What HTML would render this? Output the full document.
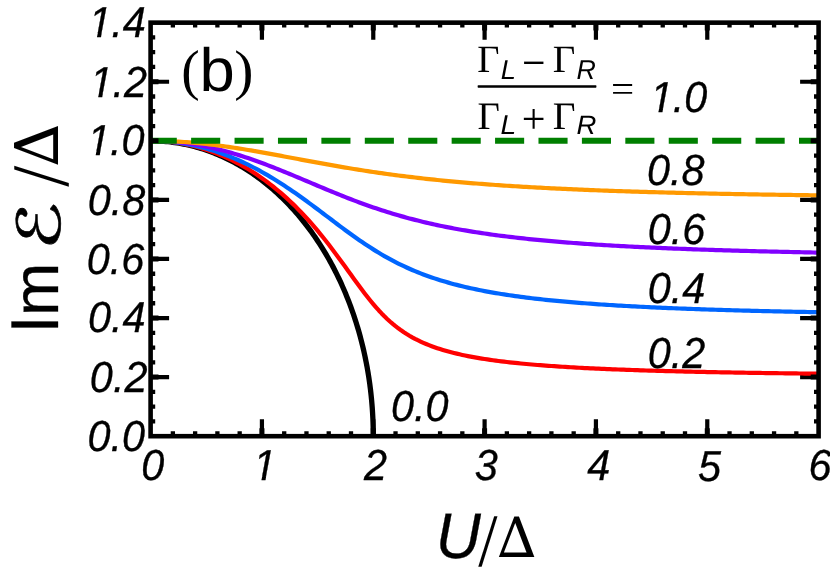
<!DOCTYPE html>
<html lang="en"><head><meta charset="utf-8"><title>Im E vs U</title>
<style>html,body{margin:0;padding:0;background:#fff}body{width:830px;height:570px;overflow:hidden}svg{display:block}.s{font-family:"Liberation Sans",sans-serif}.si{font-family:"Liberation Sans",sans-serif;font-style:italic}.r{font-family:"Liberation Serif",serif}.d{font-family:"DejaVu Sans",sans-serif}.ds{font-family:"DejaVu Serif",serif}</style></head><body>
<svg width="830" height="570" viewBox="0 0 830 570">
<rect width="830" height="570" fill="#fff"/>
<defs><clipPath id="c"><rect x="150.6" y="22.65" width="668" height="413.55"/></clipPath><clipPath id="k1"><path d="M-3 -31H25V-3.8H13.05L12.31 0V1H8.3V0L9.04 -3.8H-3Z"/></clipPath></defs>
<path id="ticks0" d="M261.93 436.2 v-17 M261.93 22.65 v17 M373.27 436.2 v-17 M373.27 22.65 v17 M484.6 436.2 v-17 M484.6 22.65 v17 M595.93 436.2 v-17 M595.93 22.65 v17 M707.27 436.2 v-17 M707.27 22.65 v17 M150.6 377.12 h18.5 M818.6 377.12 h-18.5 M150.6 318.04 h18.5 M818.6 318.04 h-18.5 M150.6 258.96 h18.5 M818.6 258.96 h-18.5 M150.6 199.89 h18.5 M818.6 199.89 h-18.5 M150.6 140.81 h18.5 M818.6 140.81 h-18.5 M150.6 81.73 h18.5 M818.6 81.73 h-18.5" fill="none" stroke="#000" stroke-width="4.2"/>
<g id="curves" clip-path="url(#c)" fill="none" stroke-linejoin="round">
<path d="M150.6 140.81 L152.8 140.82 L155 140.86 L157.2 140.94 L159.4 141.04 L161.59 141.17 L163.79 141.33 L165.99 141.51 L168.18 141.73 L170.37 141.97 L172.56 142.25 L174.75 142.55 L176.94 142.88 L179.12 143.24 L181.3 143.63 L183.48 144.04 L185.65 144.49 L187.82 144.96 L189.99 145.47 L192.15 146 L194.31 146.55 L196.46 147.14 L198.61 147.76 L200.76 148.4 L202.9 149.07 L205.04 149.77 L207.17 150.5 L209.29 151.25 L211.41 152.04 L213.52 152.85 L215.63 153.69 L217.73 154.55 L219.83 155.45 L221.91 156.37 L223.99 157.31 L226.07 158.29 L228.13 159.29 L230.19 160.32 L232.24 161.38 L234.28 162.46 L236.32 163.57 L238.34 164.71 L240.36 165.87 L242.37 167.06 L244.37 168.28 L246.36 169.52 L248.34 170.79 L250.31 172.08 L252.28 173.4 L254.23 174.75 L256.17 176.12 L258.1 177.51 L260.02 178.94 L261.93 180.38 L263.83 181.85 L265.72 183.35 L267.6 184.87 L269.46 186.42 L271.32 187.99 L273.16 189.58 L274.99 191.2 L276.81 192.84 L278.62 194.51 L280.41 196.2 L282.19 197.91 L283.96 199.65 L285.71 201.41 L287.46 203.19 L289.18 204.99 L290.9 206.82 L292.6 208.67 L294.29 210.54 L295.96 212.44 L297.62 214.35 L299.27 216.29 L300.9 218.25 L302.51 220.23 L304.11 222.23 L305.7 224.25 L307.27 226.3 L308.82 228.36 L310.36 230.44 L311.89 232.55 L313.4 234.67 L314.89 236.81 L316.37 238.98 L317.83 241.16 L319.27 243.36 L320.7 245.58 L322.11 247.82 L323.51 250.08 L324.88 252.35 L326.24 254.64 L327.59 256.96 L328.91 259.28 L330.22 261.63 L331.51 263.99 L332.79 266.37 L334.04 268.77 L335.28 271.18 L336.5 273.61 L337.7 276.05 L338.89 278.51 L340.05 280.99 L341.2 283.48 L342.33 285.98 L343.43 288.5 L344.53 291.04 L345.6 293.59 L346.65 296.15 L347.68 298.73 L348.7 301.31 L349.69 303.92 L350.67 306.53 L351.62 309.16 L352.56 311.8 L353.48 314.46 L354.37 317.12 L355.25 319.8 L356.11 322.48 L356.94 325.18 L357.76 327.89 L358.56 330.61 L359.33 333.34 L360.09 336.08 L360.82 338.83 L361.54 341.59 L362.23 344.36 L362.91 347.14 L363.56 349.93 L364.19 352.72 L364.8 355.53 L365.39 358.34 L365.96 361.16 L366.51 363.98 L367.04 366.82 L367.54 369.66 L368.03 372.5 L368.49 375.36 L368.93 378.21 L369.36 381.08 L369.76 383.95 L370.13 386.82 L370.49 389.7 L370.83 392.59 L371.14 395.47 L371.43 398.37 L371.7 401.26 L371.95 404.16 L372.18 407.06 L372.39 409.97 L372.57 412.88 L372.73 415.79 L372.88 418.7 L373 421.61 L373.09 424.53 L373.17 427.45 L373.22 430.36 L373.26 433.28 L373.27 436.2" stroke="#000" stroke-width="5.3"/>
<path d="M150.6 140.81 L153.38 140.83 L156.17 140.9 L158.95 141.01 L161.73 141.16 L164.52 141.36 L167.3 141.61 L170.08 141.89 L172.87 142.23 L175.65 142.61 L178.43 143.03 L181.22 143.5 L184 144.01 L186.78 144.57 L189.57 145.18 L192.35 145.83 L195.13 146.52 L197.92 147.27 L200.7 148.06 L203.48 148.9 L206.27 149.78 L209.05 150.71 L211.83 151.7 L214.62 152.73 L217.4 153.8 L220.18 154.93 L222.97 156.11 L225.75 157.34 L228.53 158.62 L231.32 159.95 L234.1 161.33 L236.88 162.77 L239.67 164.25 L242.45 165.8 L245.23 167.39 L248.02 169.04 L250.8 170.75 L253.58 172.52 L256.37 174.34 L259.15 176.22 L261.93 178.16 L264.72 180.16 L267.5 182.22 L270.28 184.34 L273.07 186.52 L275.85 188.77 L278.63 191.08 L281.42 193.46 L284.2 195.9 L286.98 198.41 L289.77 200.99 L292.55 203.64 L295.33 206.36 L298.12 209.15 L300.9 212.01 L303.68 214.94 L306.47 217.95 L309.25 221.03 L312.03 224.18 L314.82 227.4 L317.6 230.7 L320.38 234.06 L323.17 237.5 L325.95 241.01 L328.73 244.57 L331.52 248.2 L334.3 251.89 L337.08 255.63 L339.87 259.41 L342.65 263.23 L345.43 267.08 L348.22 270.94 L351 274.8 L353.78 278.66 L356.57 282.49 L359.35 286.28 L362.13 290.02 L364.92 293.68 L367.7 297.26 L370.48 300.73 L373.27 304.1 L376.05 307.34 L378.83 310.44 L381.62 313.41 L384.4 316.24 L387.18 318.93 L389.97 321.48 L392.75 323.89 L395.53 326.16 L398.32 328.3 L401.1 330.33 L403.88 332.23 L406.67 334.02 L409.45 335.71 L412.23 337.31 L415.02 338.81 L417.8 340.22 L420.58 341.55 L423.37 342.81 L426.15 344 L428.93 345.13 L431.72 346.2 L434.5 347.21 L437.28 348.16 L440.07 349.07 L442.85 349.93 L445.63 350.75 L448.42 351.54 L451.2 352.28 L453.98 352.99 L456.77 353.66 L459.55 354.31 L462.33 354.93 L465.12 355.52 L467.9 356.08 L470.68 356.62 L473.47 357.14 L476.25 357.64 L479.03 358.12 L481.82 358.58 L484.6 359.02 L487.38 359.44 L490.17 359.85 L492.95 360.24 L495.73 360.62 L498.52 360.99 L501.3 361.34 L504.08 361.68 L506.87 362 L509.65 362.32 L512.43 362.63 L515.22 362.92 L518 363.21 L520.78 363.49 L523.57 363.75 L526.35 364.01 L529.13 364.27 L531.92 364.51 L534.7 364.75 L537.48 364.98 L540.27 365.2 L543.05 365.41 L545.83 365.62 L548.62 365.83 L551.4 366.03 L554.18 366.22 L556.97 366.41 L559.75 366.59 L562.53 366.77 L565.32 366.94 L568.1 367.11 L570.88 367.27 L573.67 367.43 L576.45 367.59 L579.23 367.74 L582.02 367.88 L584.8 368.03 L587.58 368.17 L590.37 368.31 L593.15 368.44 L595.93 368.57 L598.72 368.7 L601.5 368.82 L604.28 368.94 L607.07 369.06 L609.85 369.18 L612.63 369.29 L615.42 369.4 L618.2 369.51 L620.98 369.62 L623.77 369.72 L626.55 369.82 L629.33 369.92 L632.12 370.02 L634.9 370.11 L637.68 370.21 L640.47 370.3 L643.25 370.39 L646.03 370.48 L648.82 370.56 L651.6 370.65 L654.38 370.73 L657.17 370.81 L659.95 370.89 L662.73 370.97 L665.52 371.04 L668.3 371.12 L671.08 371.19 L673.87 371.26 L676.65 371.33 L679.43 371.4 L682.22 371.47 L685 371.54 L687.78 371.6 L690.57 371.67 L693.35 371.73 L696.13 371.79 L698.92 371.85 L701.7 371.91 L704.48 371.97 L707.27 372.03 L710.05 372.08 L712.83 372.14 L715.62 372.2 L718.4 372.25 L721.18 372.3 L723.97 372.35 L726.75 372.41 L729.53 372.46 L732.32 372.5 L735.1 372.55 L737.88 372.6 L740.67 372.65 L743.45 372.7 L746.23 372.74 L749.02 372.79 L751.8 372.83 L754.58 372.87 L757.37 372.92 L760.15 372.96 L762.93 373 L765.72 373.04 L768.5 373.08 L771.28 373.12 L774.07 373.16 L776.85 373.2 L779.63 373.24 L782.42 373.27 L785.2 373.31 L787.98 373.35 L790.77 373.38 L793.55 373.42 L796.33 373.45 L799.12 373.49 L801.9 373.52 L804.68 373.55 L807.47 373.59 L810.25 373.62 L813.03 373.65 L815.82 373.68 L818.6 373.71" stroke="#ff0000" stroke-width="4.2"/>
<path d="M150.6 140.81 L153.38 140.83 L156.17 140.88 L158.95 140.98 L161.73 141.12 L164.52 141.29 L167.3 141.51 L170.08 141.76 L172.87 142.05 L175.65 142.38 L178.43 142.75 L181.22 143.15 L184 143.6 L186.78 144.09 L189.57 144.61 L192.35 145.18 L195.13 145.78 L197.92 146.42 L200.7 147.1 L203.48 147.82 L206.27 148.58 L209.05 149.38 L211.83 150.22 L214.62 151.1 L217.4 152.01 L220.18 152.97 L222.97 153.97 L225.75 155 L228.53 156.08 L231.32 157.19 L234.1 158.34 L236.88 159.53 L239.67 160.76 L242.45 162.03 L245.23 163.34 L248.02 164.69 L250.8 166.07 L253.58 167.5 L256.37 168.96 L259.15 170.46 L261.93 171.99 L264.72 173.57 L267.5 175.17 L270.28 176.82 L273.07 178.5 L275.85 180.21 L278.63 181.96 L281.42 183.74 L284.2 185.55 L286.98 187.39 L289.77 189.27 L292.55 191.17 L295.33 193.1 L298.12 195.05 L300.9 197.03 L303.68 199.03 L306.47 201.05 L309.25 203.09 L312.03 205.14 L314.82 207.22 L317.6 209.3 L320.38 211.39 L323.17 213.49 L325.95 215.59 L328.73 217.7 L331.52 219.8 L334.3 221.9 L337.08 224 L339.87 226.08 L342.65 228.15 L345.43 230.21 L348.22 232.25 L351 234.27 L353.78 236.26 L356.57 238.23 L359.35 240.17 L362.13 242.08 L364.92 243.96 L367.7 245.8 L370.48 247.61 L373.27 249.38 L376.05 251.11 L378.83 252.8 L381.62 254.45 L384.4 256.07 L387.18 257.64 L389.97 259.17 L392.75 260.66 L395.53 262.1 L398.32 263.51 L401.1 264.88 L403.88 266.2 L406.67 267.49 L409.45 268.74 L412.23 269.95 L415.02 271.12 L417.8 272.26 L420.58 273.36 L423.37 274.43 L426.15 275.46 L428.93 276.46 L431.72 277.43 L434.5 278.37 L437.28 279.28 L440.07 280.16 L442.85 281.01 L445.63 281.84 L448.42 282.64 L451.2 283.42 L453.98 284.17 L456.77 284.9 L459.55 285.6 L462.33 286.29 L465.12 286.95 L467.9 287.59 L470.68 288.22 L473.47 288.82 L476.25 289.41 L479.03 289.98 L481.82 290.53 L484.6 291.07 L487.38 291.59 L490.17 292.1 L492.95 292.59 L495.73 293.07 L498.52 293.54 L501.3 293.99 L504.08 294.43 L506.87 294.86 L509.65 295.27 L512.43 295.68 L515.22 296.07 L518 296.45 L520.78 296.83 L523.57 297.19 L526.35 297.55 L529.13 297.89 L531.92 298.23 L534.7 298.56 L537.48 298.88 L540.27 299.19 L543.05 299.49 L545.83 299.79 L548.62 300.08 L551.4 300.36 L554.18 300.64 L556.97 300.91 L559.75 301.17 L562.53 301.43 L565.32 301.68 L568.1 301.92 L570.88 302.16 L573.67 302.4 L576.45 302.63 L579.23 302.85 L582.02 303.07 L584.8 303.28 L587.58 303.49 L590.37 303.7 L593.15 303.9 L595.93 304.1 L598.72 304.29 L601.5 304.48 L604.28 304.66 L607.07 304.84 L609.85 305.02 L612.63 305.19 L615.42 305.36 L618.2 305.53 L620.98 305.69 L623.77 305.85 L626.55 306.01 L629.33 306.16 L632.12 306.31 L634.9 306.46 L637.68 306.6 L640.47 306.74 L643.25 306.88 L646.03 307.02 L648.82 307.16 L651.6 307.29 L654.38 307.42 L657.17 307.54 L659.95 307.67 L662.73 307.79 L665.52 307.91 L668.3 308.03 L671.08 308.14 L673.87 308.26 L676.65 308.37 L679.43 308.48 L682.22 308.59 L685 308.69 L687.78 308.8 L690.57 308.9 L693.35 309 L696.13 309.1 L698.92 309.2 L701.7 309.29 L704.48 309.39 L707.27 309.48 L710.05 309.57 L712.83 309.66 L715.62 309.75 L718.4 309.84 L721.18 309.92 L723.97 310.01 L726.75 310.09 L729.53 310.17 L732.32 310.25 L735.1 310.33 L737.88 310.41 L740.67 310.49 L743.45 310.56 L746.23 310.64 L749.02 310.71 L751.8 310.78 L754.58 310.85 L757.37 310.92 L760.15 310.99 L762.93 311.06 L765.72 311.13 L768.5 311.19 L771.28 311.26 L774.07 311.32 L776.85 311.38 L779.63 311.45 L782.42 311.51 L785.2 311.57 L787.98 311.63 L790.77 311.69 L793.55 311.74 L796.33 311.8 L799.12 311.86 L801.9 311.91 L804.68 311.97 L807.47 312.02 L810.25 312.08 L813.03 312.13 L815.82 312.18 L818.6 312.23" stroke="#0066ff" stroke-width="4.2"/>
<path d="M150.6 140.81 L153.38 140.82 L156.17 140.87 L158.95 140.94 L161.73 141.04 L164.52 141.18 L167.3 141.34 L170.08 141.53 L172.87 141.75 L175.65 142 L178.43 142.28 L181.22 142.59 L184 142.92 L186.78 143.29 L189.57 143.68 L192.35 144.11 L195.13 144.56 L197.92 145.04 L200.7 145.54 L203.48 146.08 L206.27 146.64 L209.05 147.23 L211.83 147.84 L214.62 148.48 L217.4 149.15 L220.18 149.84 L222.97 150.56 L225.75 151.31 L228.53 152.07 L231.32 152.87 L234.1 153.68 L236.88 154.52 L239.67 155.38 L242.45 156.27 L245.23 157.17 L248.02 158.1 L250.8 159.05 L253.58 160.01 L256.37 161 L259.15 162 L261.93 163.02 L264.72 164.06 L267.5 165.11 L270.28 166.18 L273.07 167.27 L275.85 168.36 L278.63 169.47 L281.42 170.59 L284.2 171.72 L286.98 172.86 L289.77 174 L292.55 175.16 L295.33 176.32 L298.12 177.49 L300.9 178.66 L303.68 179.83 L306.47 181.01 L309.25 182.18 L312.03 183.36 L314.82 184.53 L317.6 185.71 L320.38 186.88 L323.17 188.04 L325.95 189.2 L328.73 190.36 L331.52 191.51 L334.3 192.65 L337.08 193.78 L339.87 194.9 L342.65 196.01 L345.43 197.11 L348.22 198.2 L351 199.28 L353.78 200.34 L356.57 201.39 L359.35 202.43 L362.13 203.45 L364.92 204.46 L367.7 205.45 L370.48 206.43 L373.27 207.39 L376.05 208.34 L378.83 209.26 L381.62 210.18 L384.4 211.07 L387.18 211.95 L389.97 212.82 L392.75 213.67 L395.53 214.5 L398.32 215.31 L401.1 216.11 L403.88 216.89 L406.67 217.66 L409.45 218.41 L412.23 219.15 L415.02 219.87 L417.8 220.57 L420.58 221.26 L423.37 221.93 L426.15 222.59 L428.93 223.24 L431.72 223.87 L434.5 224.49 L437.28 225.09 L440.07 225.68 L442.85 226.26 L445.63 226.83 L448.42 227.38 L451.2 227.92 L453.98 228.45 L456.77 228.96 L459.55 229.47 L462.33 229.96 L465.12 230.44 L467.9 230.91 L470.68 231.37 L473.47 231.83 L476.25 232.27 L479.03 232.7 L481.82 233.12 L484.6 233.53 L487.38 233.93 L490.17 234.33 L492.95 234.72 L495.73 235.09 L498.52 235.46 L501.3 235.82 L504.08 236.18 L506.87 236.52 L509.65 236.86 L512.43 237.19 L515.22 237.52 L518 237.84 L520.78 238.15 L523.57 238.45 L526.35 238.75 L529.13 239.04 L531.92 239.33 L534.7 239.61 L537.48 239.88 L540.27 240.15 L543.05 240.42 L545.83 240.67 L548.62 240.93 L551.4 241.18 L554.18 241.42 L556.97 241.66 L559.75 241.89 L562.53 242.12 L565.32 242.34 L568.1 242.56 L570.88 242.78 L573.67 242.99 L576.45 243.2 L579.23 243.4 L582.02 243.6 L584.8 243.8 L587.58 243.99 L590.37 244.18 L593.15 244.37 L595.93 244.55 L598.72 244.73 L601.5 244.9 L604.28 245.08 L607.07 245.25 L609.85 245.41 L612.63 245.58 L615.42 245.74 L618.2 245.89 L620.98 246.05 L623.77 246.2 L626.55 246.35 L629.33 246.5 L632.12 246.64 L634.9 246.78 L637.68 246.92 L640.47 247.06 L643.25 247.2 L646.03 247.33 L648.82 247.46 L651.6 247.59 L654.38 247.71 L657.17 247.84 L659.95 247.96 L662.73 248.08 L665.52 248.2 L668.3 248.31 L671.08 248.43 L673.87 248.54 L676.65 248.65 L679.43 248.76 L682.22 248.87 L685 248.97 L687.78 249.08 L690.57 249.18 L693.35 249.28 L696.13 249.38 L698.92 249.48 L701.7 249.58 L704.48 249.67 L707.27 249.76 L710.05 249.86 L712.83 249.95 L715.62 250.04 L718.4 250.12 L721.18 250.21 L723.97 250.3 L726.75 250.38 L729.53 250.46 L732.32 250.55 L735.1 250.63 L737.88 250.71 L740.67 250.78 L743.45 250.86 L746.23 250.94 L749.02 251.01 L751.8 251.09 L754.58 251.16 L757.37 251.23 L760.15 251.3 L762.93 251.37 L765.72 251.44 L768.5 251.51 L771.28 251.58 L774.07 251.64 L776.85 251.71 L779.63 251.77 L782.42 251.84 L785.2 251.9 L787.98 251.96 L790.77 252.02 L793.55 252.08 L796.33 252.14 L799.12 252.2 L801.9 252.26 L804.68 252.32 L807.47 252.37 L810.25 252.43 L813.03 252.49 L815.82 252.54 L818.6 252.59" stroke="#8000ff" stroke-width="4.2"/>
<path d="M150.6 140.81 L153.38 140.82 L156.17 140.84 L158.95 140.88 L161.73 140.94 L164.52 141.01 L167.3 141.11 L170.08 141.21 L172.87 141.34 L175.65 141.48 L178.43 141.63 L181.22 141.8 L184 141.99 L186.78 142.19 L189.57 142.41 L192.35 142.64 L195.13 142.89 L197.92 143.15 L200.7 143.42 L203.48 143.71 L206.27 144.02 L209.05 144.33 L211.83 144.66 L214.62 145 L217.4 145.36 L220.18 145.73 L222.97 146.1 L225.75 146.49 L228.53 146.89 L231.32 147.3 L234.1 147.72 L236.88 148.15 L239.67 148.59 L242.45 149.03 L245.23 149.49 L248.02 149.95 L250.8 150.42 L253.58 150.9 L256.37 151.38 L259.15 151.87 L261.93 152.36 L264.72 152.86 L267.5 153.36 L270.28 153.87 L273.07 154.38 L275.85 154.9 L278.63 155.41 L281.42 155.93 L284.2 156.45 L286.98 156.97 L289.77 157.49 L292.55 158.02 L295.33 158.54 L298.12 159.06 L300.9 159.58 L303.68 160.11 L306.47 160.62 L309.25 161.14 L312.03 161.66 L314.82 162.17 L317.6 162.68 L320.38 163.19 L323.17 163.69 L325.95 164.19 L328.73 164.69 L331.52 165.18 L334.3 165.67 L337.08 166.16 L339.87 166.64 L342.65 167.11 L345.43 167.58 L348.22 168.05 L351 168.51 L353.78 168.96 L356.57 169.41 L359.35 169.86 L362.13 170.3 L364.92 170.73 L367.7 171.16 L370.48 171.58 L373.27 171.99 L376.05 172.4 L378.83 172.81 L381.62 173.2 L384.4 173.6 L387.18 173.98 L389.97 174.36 L392.75 174.74 L395.53 175.11 L398.32 175.47 L401.1 175.83 L403.88 176.18 L406.67 176.53 L409.45 176.87 L412.23 177.2 L415.02 177.53 L417.8 177.86 L420.58 178.17 L423.37 178.49 L426.15 178.8 L428.93 179.1 L431.72 179.4 L434.5 179.69 L437.28 179.98 L440.07 180.26 L442.85 180.54 L445.63 180.81 L448.42 181.08 L451.2 181.34 L453.98 181.6 L456.77 181.85 L459.55 182.1 L462.33 182.35 L465.12 182.59 L467.9 182.82 L470.68 183.06 L473.47 183.29 L476.25 183.51 L479.03 183.73 L481.82 183.95 L484.6 184.16 L487.38 184.37 L490.17 184.58 L492.95 184.78 L495.73 184.98 L498.52 185.17 L501.3 185.36 L504.08 185.55 L506.87 185.74 L509.65 185.92 L512.43 186.1 L515.22 186.27 L518 186.45 L520.78 186.62 L523.57 186.78 L526.35 186.95 L529.13 187.11 L531.92 187.27 L534.7 187.42 L537.48 187.57 L540.27 187.72 L543.05 187.87 L545.83 188.02 L548.62 188.16 L551.4 188.3 L554.18 188.44 L556.97 188.58 L559.75 188.71 L562.53 188.84 L565.32 188.97 L568.1 189.1 L570.88 189.22 L573.67 189.35 L576.45 189.47 L579.23 189.59 L582.02 189.71 L584.8 189.82 L587.58 189.93 L590.37 190.05 L593.15 190.16 L595.93 190.27 L598.72 190.37 L601.5 190.48 L604.28 190.58 L607.07 190.68 L609.85 190.78 L612.63 190.88 L615.42 190.98 L618.2 191.07 L620.98 191.17 L623.77 191.26 L626.55 191.35 L629.33 191.44 L632.12 191.53 L634.9 191.62 L637.68 191.7 L640.47 191.79 L643.25 191.87 L646.03 191.95 L648.82 192.03 L651.6 192.11 L654.38 192.19 L657.17 192.27 L659.95 192.35 L662.73 192.42 L665.52 192.5 L668.3 192.57 L671.08 192.64 L673.87 192.71 L676.65 192.78 L679.43 192.85 L682.22 192.92 L685 192.99 L687.78 193.05 L690.57 193.12 L693.35 193.18 L696.13 193.25 L698.92 193.31 L701.7 193.37 L704.48 193.43 L707.27 193.49 L710.05 193.55 L712.83 193.61 L715.62 193.67 L718.4 193.73 L721.18 193.78 L723.97 193.84 L726.75 193.89 L729.53 193.95 L732.32 194 L735.1 194.05 L737.88 194.1 L740.67 194.16 L743.45 194.21 L746.23 194.26 L749.02 194.31 L751.8 194.35 L754.58 194.4 L757.37 194.45 L760.15 194.5 L762.93 194.54 L765.72 194.59 L768.5 194.63 L771.28 194.68 L774.07 194.72 L776.85 194.77 L779.63 194.81 L782.42 194.85 L785.2 194.89 L787.98 194.93 L790.77 194.97 L793.55 195.02 L796.33 195.06 L799.12 195.09 L801.9 195.13 L804.68 195.17 L807.47 195.21 L810.25 195.25 L813.03 195.28 L815.82 195.32 L818.6 195.36" stroke="#ff9900" stroke-width="4.2"/>
<path d="M147.7 140.81 H823.6" stroke="#007f00" stroke-width="5.9" stroke-dasharray="29.1 14.32"/>
</g>
<g id="frame" fill="none" stroke="#000">
<path d="M261.93 436.2 v-7.9 M261.93 22.65 v7.9 M373.27 436.2 v-7.9 M373.27 22.65 v7.9 M484.6 436.2 v-7.9 M484.6 22.65 v7.9 M595.93 436.2 v-7.9 M595.93 22.65 v7.9 M707.27 436.2 v-7.9 M707.27 22.65 v7.9 M150.6 377.12 h7.9 M818.6 377.12 h-7.9 M150.6 318.04 h7.9 M818.6 318.04 h-7.9 M150.6 258.96 h7.9 M818.6 258.96 h-7.9 M150.6 199.89 h7.9 M818.6 199.89 h-7.9 M150.6 140.81 h7.9 M818.6 140.81 h-7.9 M150.6 81.73 h7.9 M818.6 81.73 h-7.9" stroke-width="5"/>
<path d="M172.87 436.2 v-4.95 M172.87 22.65 v4.95 M195.13 436.2 v-4.95 M195.13 22.65 v4.95 M217.4 436.2 v-4.95 M217.4 22.65 v4.95 M239.67 436.2 v-4.95 M239.67 22.65 v4.95 M284.2 436.2 v-4.95 M284.2 22.65 v4.95 M306.47 436.2 v-4.95 M306.47 22.65 v4.95 M328.73 436.2 v-4.95 M328.73 22.65 v4.95 M351 436.2 v-4.95 M351 22.65 v4.95 M395.53 436.2 v-4.95 M395.53 22.65 v4.95 M417.8 436.2 v-4.95 M417.8 22.65 v4.95 M440.07 436.2 v-4.95 M440.07 22.65 v4.95 M462.33 436.2 v-4.95 M462.33 22.65 v4.95 M506.87 436.2 v-4.95 M506.87 22.65 v4.95 M529.13 436.2 v-4.95 M529.13 22.65 v4.95 M551.4 436.2 v-4.95 M551.4 22.65 v4.95 M573.67 436.2 v-4.95 M573.67 22.65 v4.95 M618.2 436.2 v-4.95 M618.2 22.65 v4.95 M640.47 436.2 v-4.95 M640.47 22.65 v4.95 M662.73 436.2 v-4.95 M662.73 22.65 v4.95 M685 436.2 v-4.95 M685 22.65 v4.95 M729.53 436.2 v-4.95 M729.53 22.65 v4.95 M751.8 436.2 v-4.95 M751.8 22.65 v4.95 M774.07 436.2 v-4.95 M774.07 22.65 v4.95 M796.33 436.2 v-4.95 M796.33 22.65 v4.95 M150.6 421.43 h4.6 M818.6 421.43 h-4.6 M150.6 406.66 h4.6 M818.6 406.66 h-4.6 M150.6 391.89 h4.6 M818.6 391.89 h-4.6 M150.6 362.35 h4.6 M818.6 362.35 h-4.6 M150.6 347.58 h4.6 M818.6 347.58 h-4.6 M150.6 332.81 h4.6 M818.6 332.81 h-4.6 M150.6 303.27 h4.6 M818.6 303.27 h-4.6 M150.6 288.5 h4.6 M818.6 288.5 h-4.6 M150.6 273.73 h4.6 M818.6 273.73 h-4.6 M150.6 244.19 h4.6 M818.6 244.19 h-4.6 M150.6 229.42 h4.6 M818.6 229.42 h-4.6 M150.6 214.66 h4.6 M818.6 214.66 h-4.6 M150.6 185.12 h4.6 M818.6 185.12 h-4.6 M150.6 170.35 h4.6 M818.6 170.35 h-4.6 M150.6 155.58 h4.6 M818.6 155.58 h-4.6 M150.6 126.04 h4.6 M818.6 126.04 h-4.6 M150.6 111.27 h4.6 M818.6 111.27 h-4.6 M150.6 96.5 h4.6 M818.6 96.5 h-4.6 M150.6 66.96 h4.6 M818.6 66.96 h-4.6 M150.6 52.19 h4.6 M818.6 52.19 h-4.6 M150.6 37.42 h4.6 M818.6 37.42 h-4.6" stroke-width="4.3"/>
<rect x="150.6" y="22.65" width="668" height="413.55" stroke-width="4.6"/>
</g>
<g id="labels" fill="#000" text-rendering="geometricPrecision">
<text id="yt0" class="si" font-size="41.4" transform="translate(145.13 451) scale(1 1.048)" text-anchor="end" stroke="#000" stroke-width="0.3">0.0</text>
<text id="yt1" class="si" font-size="41.4" transform="translate(147.41 392) scale(1 1.048)" text-anchor="end" stroke="#000" stroke-width="0.3">0.2</text>
<text id="yt2" class="si" font-size="41.4" transform="translate(145.5 332) scale(1 1.048)" text-anchor="end" stroke="#000" stroke-width="0.3">0.4</text>
<text id="yt3" class="si" font-size="41.4" transform="translate(144.35 274) scale(1 1.048)" text-anchor="end" stroke="#000" stroke-width="0.3">0.6</text>
<text id="yt4" class="si" font-size="41.4" transform="translate(145.28 215) scale(1 1.048)" text-anchor="end" stroke="#000" stroke-width="0.3">0.8</text>
<g id="yt5">
<text id="yt5a" class="si" font-size="41.4" transform="translate(87.44 155) scale(1 1.048)" stroke="#000" stroke-width="0.3" clip-path="url(#k1)">1</text>
<text id="yt5b" class="si" font-size="41.4" transform="translate(109.96 155) scale(1 1.048)" stroke="#000" stroke-width="0.3">.0</text>
</g>
<g id="yt6">
<text id="yt6a" class="si" font-size="41.4" transform="translate(89.94 97) scale(1 1.048)" stroke="#000" stroke-width="0.3" clip-path="url(#k1)">1</text>
<text id="yt6b" class="si" font-size="41.4" transform="translate(112.46 97) scale(1 1.048)" stroke="#000" stroke-width="0.3">.2</text>
</g>
<g id="yt7">
<text id="yt7a" class="si" font-size="41.4" transform="translate(88.72 37) scale(1 1.048)" stroke="#000" stroke-width="0.3" clip-path="url(#k1)">1</text>
<text id="yt7b" class="si" font-size="41.4" transform="translate(111.24 37) scale(1 1.048)" stroke="#000" stroke-width="0.3">.4</text>
</g>
<text id="xt0" class="si" font-size="41.4" transform="translate(152.87 480) scale(1 1.048)" text-anchor="middle" stroke="#000" stroke-width="0.3">0</text>
<g id="xt1">
<text id="xt1a" class="si" font-size="41.4" transform="translate(253.19 480) scale(1 1.048)" stroke="#000" stroke-width="0.3" clip-path="url(#k1)">1</text>
</g>
<text id="xt2" class="si" font-size="41.4" transform="translate(375.61 480) scale(1 1.048)" text-anchor="middle" stroke="#000" stroke-width="0.3">2</text>
<text id="xt3" class="si" font-size="41.4" transform="translate(486.33 480) scale(1 1.048)" text-anchor="middle" stroke="#000" stroke-width="0.3">3</text>
<text id="xt4" class="si" font-size="41.4" transform="translate(598.86 480) scale(1 1.048)" text-anchor="middle" stroke="#000" stroke-width="0.3">4</text>
<text id="xt5" class="si" font-size="41.4" transform="translate(709.47 481) scale(1 1.048)" text-anchor="middle" stroke="#000" stroke-width="0.3">5</text>
<text id="xt6" class="si" font-size="41.4" transform="translate(819.98 480) scale(1 1.048)" text-anchor="middle" stroke="#000" stroke-width="0.3">6</text>
<text id="c8" class="si" font-size="41.4" transform="translate(646.91 185) scale(1 1.048)" stroke="#000" stroke-width="0.3">0.8</text>
<text id="c6" class="si" font-size="41.4" transform="translate(647.72 244) scale(1 1.048)" stroke="#000" stroke-width="0.3">0.6</text>
<text id="c4" class="si" font-size="41.4" transform="translate(647.72 303) scale(1 1.048)" stroke="#000" stroke-width="0.3">0.4</text>
<text id="c2" class="si" font-size="41.4" transform="translate(647.82 368) scale(1 1.048)" stroke="#000" stroke-width="0.3">0.2</text>
<text id="c0" class="si" font-size="41.4" transform="translate(390.91 421) scale(1 1.048)" stroke="#000" stroke-width="0.3">0.0</text>
<g id="c10">
<text id="c10a" class="si" font-size="41.4" transform="translate(650.15 112) scale(1 1.048)" stroke="#000" stroke-width="0.3" clip-path="url(#k1)">1</text>
<text id="c10b" class="si" font-size="41.4" transform="translate(672.67 112) scale(1 1.048)" stroke="#000" stroke-width="0.3">.0</text>
</g>
<text id="pb" class="s" font-size="63" transform="translate(199.4 91) scale(1.0058 0.9692)">b</text>
<text id="pl" class="r" font-size="54" transform="translate(181.29 89) scale(1.0251 1.0379)">(</text>
<text id="pr" class="r" font-size="54" transform="translate(234.15 89) scale(1.0698 1.0337)">)</text>
<text id="xU" class="si" font-size="63" transform="translate(435.82 558) scale(0.9896 1.0229)" stroke="#000" stroke-width="0.3">U</text>
<text id="xs" class="r" font-size="66" transform="translate(478.33 566) scale(1.0509 1.1442)">/</text>
<text id="xD" class="ds" font-size="61" transform="translate(497.4 557) scale(0.9065 0.9095)">∆</text>
<text id="yI" class="s" font-size="66" transform="translate(57.79 333.37) rotate(-90) scale(0.9552 1.0244)" stroke="#000" stroke-width="0.3">I</text>
<text id="ym" class="s" font-size="66" transform="translate(57.81 315.91) rotate(-90) scale(0.9683 0.9825)" stroke="#000" stroke-width="0.3">m</text>
<text id="yE" class="d" font-size="60" transform="translate(59.71 250.41) rotate(-90) scale(1.3475 0.9941)" stroke="#000" stroke-width="0.6">ℰ</text>
<text id="ys" class="r" font-size="70" transform="translate(67.68 186.68) rotate(-90) scale(1.0762 1.1646)">/</text>
<text id="yD" class="ds" font-size="66" transform="translate(57.77 166.33) rotate(-90) scale(0.9143 0.914)">∆</text>
<text id="g1" class="r" font-size="35.5" transform="translate(477.29 72) scale(1.0814 1.088)">Γ</text>
<text id="g2" class="r" font-size="35.5" transform="translate(552.65 72) scale(1.0967 1.0896)">Γ</text>
<text id="g3" class="r" font-size="35.5" transform="translate(477.57 129) scale(1.087 1.0934)">Γ</text>
<text id="g4" class="r" font-size="35.5" transform="translate(552.67 129) scale(1.1075 1.0934)">Γ</text>
<text id="sL1" class="si" font-size="27" transform="translate(500.69 79) scale(1.0099 1.0081)">L</text>
<text id="sR1" class="si" font-size="27" transform="translate(576.59 79) scale(0.9921 1.0098)">R</text>
<text id="sL2" class="si" font-size="27" transform="translate(500.42 134) scale(1.0439 1.0098)">L</text>
<text id="sR2" class="si" font-size="27" transform="translate(576.39 134) scale(1.0192 0.9855)">R</text>
<text id="mi" class="r" font-size="35.5" transform="translate(521.91 79) scale(1.1726 1.3736)">−</text>
<text id="pls" class="r" font-size="35.5" transform="translate(521.77 133) scale(1.1874 1.1962)">+</text>
<text id="eq" class="r" font-size="35.5" transform="translate(610.91 102) scale(1.1574 1.1091)">=</text>
</g>
<rect id="fbar" x="477.65" y="85.2" width="118.75" height="2.5" rx="0.6" fill="#000"/>
</svg></body></html>
